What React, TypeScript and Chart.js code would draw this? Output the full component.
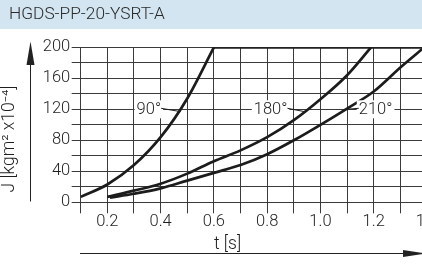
import React, { useEffect, useRef } from "react";
import { Chart, registerables } from "chart.js";

Chart.register(...registerables);

const TITLE = "HGDS-PP-20-YSRT-A";
const X_TITLE = "t [s]";
const Y_TITLE = "J [kgm² x10⁻⁴]";

// 90°
const t90 = [0.1, 0.2, 0.3, 0.4, 0.5, 0.6];
const j90 = [7, 23, 48, 84, 134, 200];
// 180°
const t180 = [0.2, 0.3, 0.4, 0.5, 0.6, 0.7, 0.8, 0.9, 1.0, 1.1, 1.19];
const j180 = [7, 15, 24, 37, 53, 67, 84, 106, 133, 164, 200];
// 210°
const t210 = [0.21, 0.3, 0.4, 0.5, 0.6, 0.7, 0.8, 0.9, 1.0, 1.1, 1.2, 1.3, 1.39];
const j210 = [6, 11, 18, 28, 38, 48, 62, 80, 100, 121, 143, 174, 200];
// maximum J
const tMax = [0.6, 1.45];
const jMax = [200, 200];

const X_MIN = 0.1;
const X_MAX = 1.4;
const Y_MIN = 0;
const Y_MAX = 200;

// curve labels: text, label centre (t, J), leader end on the curve (t, J), side of leader
const curveLabels = [
  { text: "90°", t: 0.356, j: 120, lt: 0.475, lj: 117, side: "right" },
  { text: "180°", t: 0.813, j: 120, lt: 0.94, lj: 117, side: "right" },
  { text: "210°", t: 1.207, j: 120, lt: 1.095, lj: 120, side: "left" },
];

const FONT = "Roboto, 'DejaVu Sans', sans-serif";
const WEIGHT = "300";
const INK = "#1c1c1c";
const GRID = "#3a3a3a";
const TEXT = "#1e1e1e";

const toPts = (xs: number[], ys: number[]) => xs.map((x, i) => ({ x, y: ys[i] }));

export default function App() {
  const ref = useRef<HTMLCanvasElement | null>(null);

  useEffect(() => {
    const canvas = ref.current;
    if (!canvas) return;

    const decor = {
      id: "decor",
      beforeDraw(chart: any) {
        const { ctx, width } = chart;
        ctx.save();
        ctx.fillStyle = "#ffffff";
        ctx.fillRect(0, 0, width, chart.height);
        ctx.fillStyle = "rgb(211,229,240)";
        ctx.fillRect(0, 0, width, 29);
        ctx.fillStyle = "#2a2a2a";
        ctx.font = `${WEIGHT} 17.3px ${FONT}`;
        ctx.textBaseline = "middle";
        ctx.textAlign = "left";
        ctx.fillText(TITLE, 9, 14.5);
        ctx.restore();
      },
      afterDatasetsDraw(chart: any) {
        const { ctx } = chart;
        const xs = chart.scales.x;
        const ys = chart.scales.y;
        ctx.save();
        ctx.font = `${WEIGHT} 16.5px ${FONT}`;
        ctx.textBaseline = "middle";
        ctx.textAlign = "center";
        for (const l of curveLabels) {
          const cx = xs.getPixelForValue(l.t);
          const cy = ys.getPixelForValue(l.j);
          const w = ctx.measureText(l.text).width;
          const lx = xs.getPixelForValue(l.lt);
          const ly = ys.getPixelForValue(l.lj);
          ctx.fillStyle = "#ffffff";
          ctx.fillRect(cx - w / 2 - 2, cy - 9, w + 4, 18);
          ctx.strokeStyle = INK;
          ctx.lineWidth = 1;
          ctx.beginPath();
          const sx = l.side === "right" ? cx + w / 2 : cx - w / 2;
          ctx.moveTo(sx, cy - 1);
          ctx.lineTo(lx, ly);
          ctx.stroke();
          ctx.fillStyle = TEXT;
          ctx.fillText(l.text, cx, cy + 0.5);
        }
        ctx.restore();
      },
      afterDraw(chart: any) {
        const { ctx } = chart;
        ctx.save();
        ctx.strokeStyle = "#222";
        ctx.fillStyle = "#222";
        ctx.lineWidth = 1;
        // y arrow
        ctx.beginPath();
        ctx.moveTo(30.5, 201.5);
        ctx.lineTo(30.5, 60);
        ctx.stroke();
        ctx.beginPath();
        ctx.moveTo(30.5, 41.5);
        ctx.lineTo(34.5, 65);
        ctx.lineTo(26.5, 65);
        ctx.closePath();
        ctx.fill();
        // x arrow
        ctx.beginPath();
        ctx.moveTo(80, 253.5);
        ctx.lineTo(410, 253.5);
        ctx.stroke();
        ctx.beginPath();
        ctx.moveTo(426, 253.5);
        ctx.lineTo(403, 250);
        ctx.lineTo(403, 257);
        ctx.closePath();
        ctx.fill();
        // axis titles
        ctx.font = `${WEIGHT} 17.5px ${FONT}`;
        ctx.fillStyle = TEXT;
        ctx.textAlign = "center";
        ctx.textBaseline = "middle";
        ctx.fillText(X_TITLE, 227.5, 245);
        ctx.translate(10, 139);
        ctx.rotate(-Math.PI / 2);
        ctx.fillText(Y_TITLE, 0, 0);
        ctx.restore();
      },
    };

    const line = (pts: { x: number; y: number }[], w: number) => ({
      data: pts,
      borderColor: INK,
      borderWidth: w,
      pointRadius: 0,
      fill: false,
      cubicInterpolationMode: "monotone" as const,
    });

    const chart = new Chart(canvas, {
      type: "line",
      data: {
        datasets: [
          line(toPts(t90, j90), 2.7),
          line(toPts(t180, j180), 2.7),
          line(toPts(t210, j210), 2.7),
          line(toPts(tMax, jMax), 3),
        ],
      },
      options: {
        responsive: false,
        animation: false,
        devicePixelRatio: 1,
        layout: { padding: { top: 47.3, left: 0, right: 0, bottom: 0 } },
        plugins: {
          legend: { display: false },
          tooltip: { enabled: false },
          title: { display: false },
        },
        scales: {
          x: {
            type: "linear",
            min: X_MIN,
            max: X_MAX,
            border: { display: false },
            grid: { color: GRID, lineWidth: 1, tickLength: 11, tickColor: GRID },
            ticks: {
              stepSize: 0.1,
              autoSkip: false,
              maxRotation: 0,
              padding: 0,
              color: TEXT,
              font: { family: FONT, size: 16.5, lineHeight: 1, weight: WEIGHT },
              callback: (v: any) => {
                const k = Math.round(Number(v) * 10);
                return k % 2 === 0 ? (k / 10).toFixed(1) : "";
              },
            },
            afterFit: (s: any) => {
              s.height = 62.7;
              s.paddingLeft = 0;
              s.paddingRight = 0;
            },
          },
          y: {
            type: "linear",
            min: Y_MIN,
            max: Y_MAX,
            border: { display: false },
            grid: { color: GRID, lineWidth: 1, tickLength: 9, tickColor: GRID },
            ticks: {
              stepSize: 20,
              autoSkip: false,
              padding: 1.5,
              color: TEXT,
              font: { family: FONT, size: 16.5, lineHeight: 1, weight: WEIGHT },
              callback: (v: any) => (Number(v) % 40 === 0 ? String(v) : ""),
            },
            afterFit: (s: any) => {
              s.width = 80.7;
              s.paddingTop = 0;
              s.paddingBottom = 0;
            },
          },
        },
      },
      plugins: [decor],
    });

    return () => chart.destroy();
  }, []);

  return (
    <div
      style={{
        position: "fixed",
        left: 0,
        top: 0,
        width: 422,
        height: 265,
        overflow: "hidden",
        background: "#fff",
      }}
    >
      <canvas ref={ref} width={427} height={265} style={{ width: 427, height: 265, display: "block" }} />
    </div>
  );
}
